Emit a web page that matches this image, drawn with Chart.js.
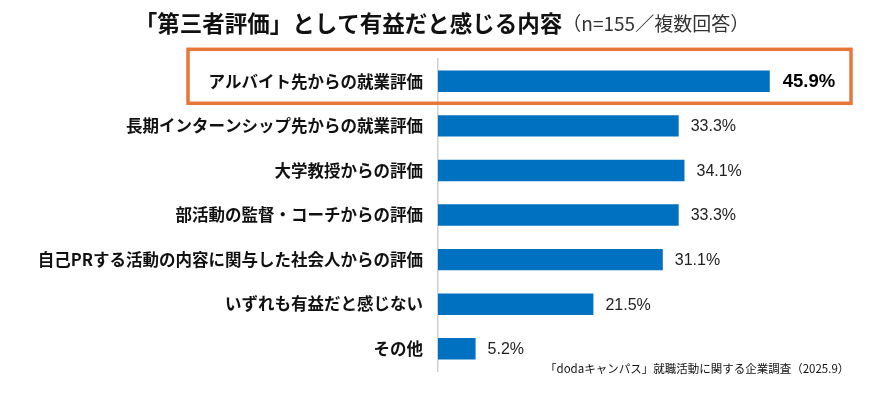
<!DOCTYPE html>
<html lang="ja">
<head>
<meta charset="UTF-8">
<title>第三者評価</title>
<script src="https://cdn.jsdelivr.net/npm/chart.js"></script>
<style>
  html, body { margin: 0; padding: 0; background: #fff; }
  #wrap { position: relative; width: 870px; height: 396px; }
</style>
</head>
<body>
<div id="wrap"><canvas id="chart"></canvas></div>
<script>
const categories = [
  'アルバイト先からの就業評価',
  '長期インターンシップ先からの就業評価',
  '大学教授からの評価',
  '部活動の監督・コーチからの評価',
  '自己PRする活動の内容に関与した社会人からの評価',
  'いずれも有益だと感じない',
  'その他'
];
const values = [45.9, 33.3, 34.1, 33.3, 31.1, 21.5, 5.2];
const highlightIndex = 0;

const titleMain = '「第三者評価」として有益だと感じる内容';
const titleSub = '（n=155／複数回答）';
const sourceNote = '「dodaキャンパス」就職活動に関する企業調査（2025.9）';

const JP = '"Noto Sans CJK JP", "Noto Sans", sans-serif';
const NUM = '"Liberation Sans", Arial, sans-serif';

const extras = {
  id: 'extras',
  afterDraw(chart) {
    const c = chart.ctx;
    c.save();
    // title
    c.textBaseline = 'middle';
    c.font = 'bold 22.5px ' + JP;
    const w1 = c.measureText(titleMain).width;
    c.font = '19px ' + JP;
    const w2 = c.measureText(titleSub).width;
    let x = 442 - (w1 + w2) / 2;
    c.fillStyle = '#111';
    c.textAlign = 'left';
    c.font = 'bold 22.5px ' + JP;
    c.fillText(titleMain, x, 23);
    c.fillStyle = '#333';
    c.font = '19px ' + JP;
    c.fillText(titleSub, x + w1, 24);

    // value labels
    const meta = chart.getDatasetMeta(0);
    meta.data.forEach((bar, i) => {
      const hl = i === highlightIndex;
      c.font = (hl ? 'bold 18.5px ' : '16px ') + NUM;
      c.fillStyle = hl ? '#000' : '#222';
      c.textAlign = 'left';
      c.fillText(values[i].toFixed(1) + '%', bar.x + (hl ? 13 : 12), bar.y + 1);
    });

    // highlight box
    const hb = meta.data[highlightIndex];
    c.strokeStyle = '#E8763A';
    c.lineWidth = 3.5;
    c.strokeRect(188, hb.y - 32, 663, 54);

    // source
    c.font = '11.5px ' + JP;
    c.fillStyle = '#111';
    c.textAlign = 'left';
    c.fillText(sourceNote, 545, 369);
    c.restore();
  }
};

new Chart(document.getElementById('chart'), {
  type: 'bar',
  data: {
    labels: categories,
    datasets: [{
      data: values,
      backgroundColor: '#0070C0',
      barPercentage: 0.5,
      categoryPercentage: 0.96
    }]
  },
  options: {
    indexAxis: 'y',
    responsive: true,
    maintainAspectRatio: false,
    animation: false,
    layout: { padding: { top: 59, bottom: 16, left: 0, right: 20 } },
    plugins: { legend: { display: false }, tooltip: { enabled: false } },
    scales: {
      x: {
        display: false,
        min: 0,
        max: 57
      },
      y: {
        grid: { display: false, drawTicks: false },
        border: { display: true, color: '#D0D0D0', width: 1.5 },
        ticks: {
          color: '#111',
          padding: 15,
          font: { family: JP, size: 16.5, weight: 'bold' }
        },
        afterFit(scale) { scale.width = 438; }
      }
    }
  },
  plugins: [extras]
});
</script>
</body>
</html>
